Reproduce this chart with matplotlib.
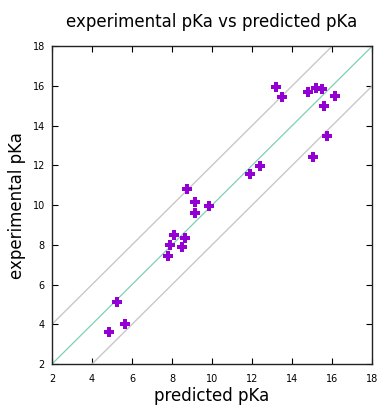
import matplotlib
matplotlib.use("Agg")
import matplotlib.pyplot as plt
import numpy as np

# predicted vs experimental pKa values
predicted = [4.87, 5.25, 5.63, 7.82, 7.92, 8.08, 8.50, 8.67, 8.73, 9.13, 9.13, 9.85,
             11.88, 12.42, 13.20, 13.50, 14.78, 15.17, 15.48, 15.60, 16.15, 15.02, 15.72]
experimental = [3.62, 5.12, 4.03, 7.46, 8.01, 8.50, 7.88, 8.37, 10.83, 10.18, 9.60, 9.94,
                11.55, 11.97, 15.97, 15.42, 15.68, 15.88, 15.82, 15.00, 15.47, 12.42, 13.49]

lo, hi = 2, 18
ticks = np.arange(2, 19, 2)

fig = plt.figure(figsize=(3.79, 4.05), dpi=100)
ax = fig.add_axes([0.137, 0.101, 0.845, 0.785])

# identity line and +/- 2 units band
line = np.array([lo, hi])
ax.plot(line, line + 2, color="#c8c8c8", lw=1)
ax.plot(line, line - 2, color="#c8c8c8", lw=1)
ax.plot(line, line, color="#7fcfb6", lw=0.9)

ax.plot(predicted, experimental, "P", color="#9400d3", markersize=7,
        markeredgewidth=0, linestyle="none")

ax.set_xlim(lo, hi)
ax.set_ylim(lo, hi)
ax.set_xticks(ticks)
ax.set_yticks(ticks)
ax.tick_params(direction="in", top=True, right=True, labelsize=7, length=4)
ax.tick_params(axis="x", pad=7)
ax.tick_params(axis="y", pad=5)
for s in ax.spines.values():
    s.set_linewidth(1.0)
    s.set_color("#222222")

ax.set_title("experimental pKa vs predicted pKa", fontsize=12, pad=14)
ax.set_xlabel("predicted pKa", fontsize=12, labelpad=2)
ax.set_ylabel("experimental pKa", fontsize=12, labelpad=5)

fig.savefig("out.png", dpi=100)
